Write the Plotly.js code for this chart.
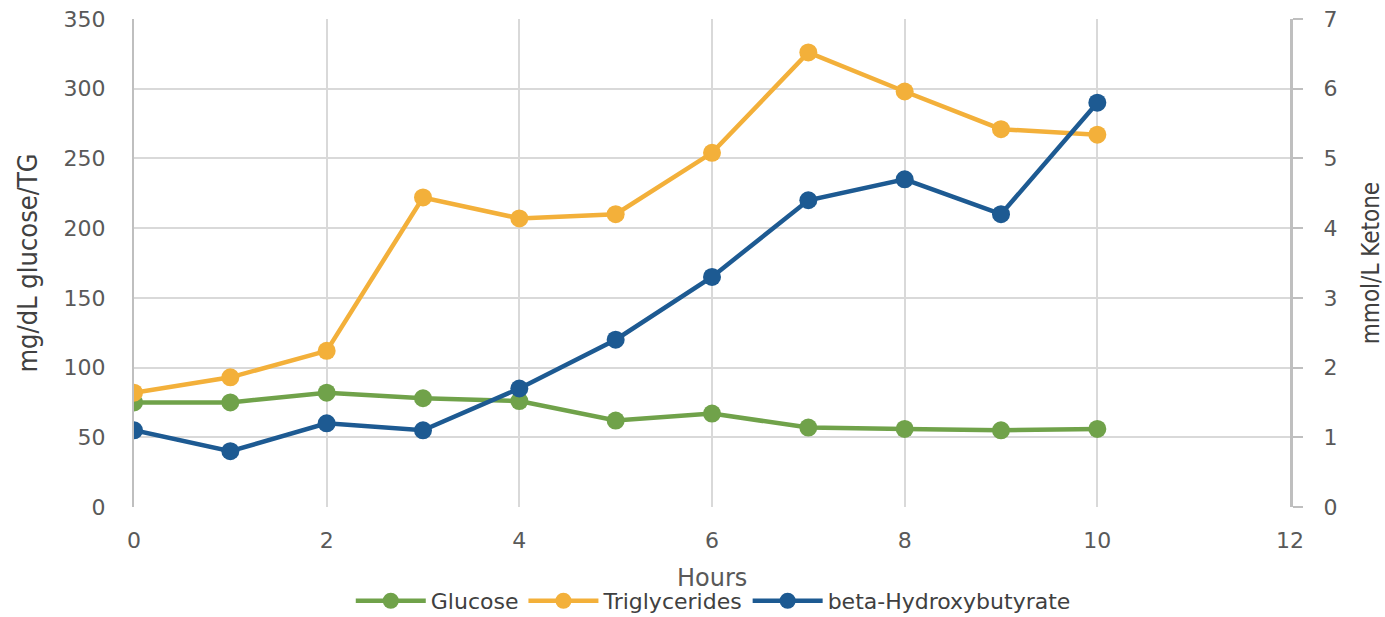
<!DOCTYPE html>
<html><head><meta charset="utf-8">
<script src="https://cdn.plot.ly/plotly-3.0.1.min.js"></script>
<style>html,body{margin:0;padding:0;background:#fff}#chart{width:1385px;height:617px}</style>
</head><body><div id="chart"></div>
<script>
const hours = [0,1,2,3,4,5,6,7,8,9,10];
const glucose = [75,75,82,78,76,62,67,57,56,55,56];
const triglycerides = [82,93,112,222,207,210,254,326,298,271,267];
const betaHydroxybutyrate = [1.1,0.8,1.2,1.1,1.7,2.4,3.3,4.4,4.7,4.2,5.8];
const xTicks = [0,2,4,6,8,10,12];
const leftTicks = [0,50,100,150,200,250,300,350];
const rightTicks = [0,1,2,3,4,5,6,7];

const wide = 'DejaVu Sans, sans-serif';
const narrow = 'Liberation Sans Narrow, DejaVu Sans Condensed, sans-serif';
const tickFont = {family:wide, size:22, color:'#595959'};

const traces = [
 {x:hours, y:glucose, name:'Glucose', mode:'lines+markers', yaxis:'y',
  line:{color:'#70a24a', width:4.5}, marker:{color:'#70a24a', size:18}},
 {x:hours, y:triglycerides, name:'Triglycerides', mode:'lines+markers', yaxis:'y',
  line:{color:'#f3b03a', width:4.5}, marker:{color:'#f3b03a', size:18}},
 {x:hours, y:betaHydroxybutyrate, name:'beta-Hydroxybutyrate', mode:'lines+markers', yaxis:'y2',
  line:{color:'#1d5a92', width:4.5}, marker:{color:'#1d5a92', size:18}}
];

const layout = {
 width:1385, height:617,
 margin:{l:134, r:95, t:19, b:110},
 paper_bgcolor:'#fff', plot_bgcolor:'#fff',
 showlegend:true,
 legend:{orientation:'h', x:0.515, xref:'container', xanchor:'center', y:0.026, yref:'container', yanchor:'middle',
   font:{family:wide, size:22, color:'#404040'}, traceorder:'normal', itemwidth:70},
 annotations:[{text:'Hours', xref:'paper', yref:'paper', x:0.5, y:-0.1455, xanchor:'center', yanchor:'middle',
   showarrow:false, font:{family:wide, size:24, color:'#595959'}}],
 xaxis:{range:[0,12], tickvals:xTicks, ticktext:xTicks.map(String), tickfont:tickFont, automargin:false,
   showgrid:true, gridcolor:'#d9d9d9', gridwidth:2, zeroline:false,
   showline:false, ticks:'', ticklabelstandoff:18},
 yaxis:{range:[0,350], tickvals:leftTicks, ticktext:leftTicks.map(String), tickfont:tickFont, automargin:false,
   showgrid:true, gridcolor:'#d9d9d9', gridwidth:2, zeroline:false,
   showline:true, linecolor:'#bfbfbf', linewidth:2, ticks:'', ticklabelstandoff:22,
   title:{text:'mg/dL glucose/TG', font:{family:narrow, size:27, color:'#404040'}, standoff:18}},
 yaxis2:{range:[0,7], tickvals:rightTicks, ticktext:rightTicks.map(String), tickfont:tickFont, automargin:false,
   overlaying:'y', side:'right', showgrid:false, zeroline:false,
   showline:true, linecolor:'#bfbfbf', linewidth:3, ticks:'outside', ticklen:10, tickcolor:'#bfbfbf', tickwidth:2,
   ticklabelstandoff:16,
   title:{text:'mmol/L Ketone', font:{family:narrow, size:24, color:'#404040'}, standoff:36}}
};
Plotly.newPlot('chart', traces, layout, {displayModeBar:false, staticPlot:true});
</script></body></html>
